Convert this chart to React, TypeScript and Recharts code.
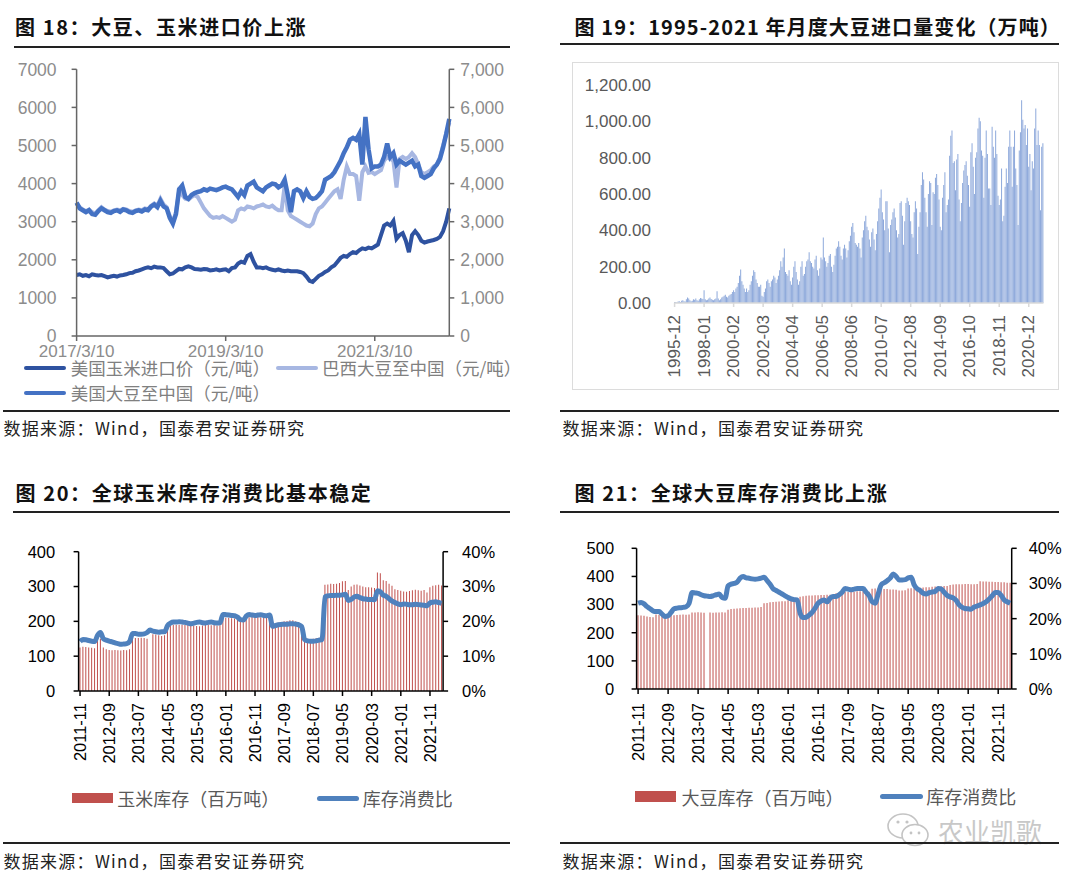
import React from "react";
import { LineChart, Line, BarChart, Bar, ComposedChart, XAxis, YAxis } from "recharts";

const CJK = '"Noto Sans CJK SC", sans-serif';
const NUM = '"Liberation Sans", Arial, sans-serif';

// ---- 图18 大豆、玉米进口价（半月一个点，2017/3/10 起）----
const priceTickLabels = ["2017/3/10", "2019/3/10", "2021/3/10"];
const priceTickAt = [0, 48, 96];
const cornImport = [
  1600, 1620, 1580, 1600, 1570, 1620, 1600, 1590, 1600, 1570,
  1540, 1560, 1580, 1560, 1590, 1600, 1620, 1650, 1660, 1700,
  1720, 1750, 1780, 1800, 1780, 1820, 1800, 1800, 1780, 1700,
  1620, 1640, 1700, 1760, 1750, 1800, 1830, 1800, 1760, 1750,
  1740, 1760, 1750, 1720, 1730, 1750, 1720, 1740, 1750, 1700,
  1780, 1800, 1900, 1950, 1920, 2100, 2150, 1950, 1800, 1800,
  1780, 1800, 1760, 1740, 1720, 1750, 1720, 1700, 1720, 1700,
  1700, 1700, 1680, 1650, 1560, 1450, 1420, 1500, 1580, 1620,
  1680, 1720, 1800, 1850, 1950, 2050, 2100, 2080, 2150, 2200,
  2180, 2250, 2300, 2280, 2320, 2300, 2350, 2400, 2650, 2900,
  2950, 2900, 3020, 2550, 2650, 2700, 2500, 2200, 2650, 2750,
  2650, 2500, 2450, 2480, 2500, 2520, 2550, 2600, 2750, 3000,
  3350,
];
const brazilSoy = [
  3480, 3380, 3320, 3280, 3320, 3250, 3220, 3300, 3380, 3320,
  3280, 3260, 3300, 3320, 3300, 3340, 3320, 3280, 3260, 3300,
  3320, 3300, 3350, 3330, 3420, 3480, 3420, 3600, 3450, 3380,
  3150, 3000, 3250, 3800, 3700, 3600, 3580, 3650, 3700, 3650,
  3500, 3350, 3250, 3150, 3100, 3120, 3100, 3150, 3100, 3050,
  3000, 3050, 3300, 3350, 3320, 3400, 3380, 3350, 3400, 3420,
  3450, 3400, 3380, 3420, 3350, 3300, 3300, 3950, 3300, 3150,
  3100, 3050, 3000, 2950, 2900, 2880, 2950, 3200, 3350, 3400,
  3500, 3600, 3700, 3800, 3850, 3600, 4100, 4450, 4250, 4250,
  4200, 3550, 4300, 4450, 4280, 4300, 4250, 4300, 4350, 4600,
  4700, 4650, 4600, 3900, 4650, 4700, 4650, 4700, 4800, 4700,
  4500, 4300, 4250, 4300, 4350, 4450, 4500, 4700, 5000, 5300,
  5600,
];
const usSoy = [
  3500, 3350, 3300, 3250, 3300, 3200, 3180, 3280, 3350, 3300,
  3250, 3230, 3280, 3300, 3260, 3320, 3300, 3250, 3230, 3280,
  3300, 3270, 3320, 3300, 3400, 3450, 3380, 3550, 3400, 3350,
  3100, 2950, 3200, 3850, 3950, 3650, 3600, 3700, 3750, 3780,
  3800, 3850, 3820, 3870, 3850, 3830, 3860, 3900, 3920, 3880,
  3850, 3750, 3650, 3800, 3700, 3950, 4000, 4050, 3900, 3850,
  3800, 3900, 3950, 4000, 3980, 3900, 3950, 4100, 3700, 3250,
  3800, 3850, 3800, 3620, 3800, 3650, 3600, 3620, 3700, 3800,
  4100, 4150, 4200, 4300, 4450, 4600, 4800, 4950, 5150, 5200,
  5150, 5300, 4500, 5750, 4900, 4400, 4450, 4450, 4500, 4700,
  5050, 4700, 4800, 4500, 4600, 4550, 4500, 4550, 4600, 4450,
  4500, 4200, 4150, 4200, 4250, 4400, 4500, 4650, 4950, 5300,
  5700,
];
const priceTicks = [0, 1000, 2000, 3000, 4000, 5000, 6000, 7000];

// ---- 图19 月度大豆进口量（万吨），1995-12 起 ----
const soyImports = [
  5,
  5, 3, 8, 10, 6, 12, 15, 10, 8, 20, 30, 25, // 1996
  15, 10, 12, 20, 18, 25, 15, 12, 20, 28, 25, 22, // 1997
  70, 20, 15, 18, 25, 30, 22, 18, 15, 20, 25, 65, // 1998
  25, 15, 20, 30, 35, 40, 45, 35, 30, 40, 45, 50, // 1999
  60, 70, 60, 80, 90, 110, 150, 185, 120, 100, 80, 60, // 2000
  80, 60, 70, 100, 120, 150, 180, 170, 130, 110, 90, 90, // 2001
  100, 40, 35, 60, 80, 120, 130, 110, 90, 120, 130, 150, // 2002
  140, 110, 130, 150, 180, 230, 200, 250, 300, 170, 160, 150, // 2003
  180, 120, 100, 140, 200, 230, 170, 130, 100, 120, 200, 230, // 2004
  150, 160, 200, 230, 240, 280, 230, 220, 200, 190, 240, 260, // 2005
  180, 150, 190, 250, 240, 360, 250, 230, 200, 220, 260, 270, // 2006
  200, 170, 210, 260, 300, 310, 340, 310, 260, 240, 300, 320, // 2007
  300, 250, 290, 340, 370, 420, 440, 390, 330, 320, 310, 330, // 2008
  300, 250, 360, 400, 450, 480, 420, 400, 350, 310, 390, 410, // 2009
  350, 290, 380, 450, 520, 580, 625, 500, 460, 400, 560, 560, // 2010
  410, 280, 430, 460, 500, 520, 470, 400, 360, 380, 550, 560, // 2011
  480, 320, 450, 550, 580, 560, 540, 450, 380, 360, 500, 560, // 2012
  520, 270, 420, 500, 650, 720, 680, 580, 500, 420, 600, 670, // 2013
  660, 430, 610, 600, 690, 710, 650, 570, 420, 400, 580, 650, // 2014
  720, 500, 540, 570, 810, 920, 950, 770, 780, 620, 790, 820, // 2015
  570, 450, 550, 660, 730, 760, 780, 700, 650, 530, 830, 880, // 2016
  750, 600, 800, 830, 960, 1020, 1000, 840, 810, 580, 800, 950, // 2017
  820, 630, 630, 540, 970, 860, 800, 950, 820, 590, 540, 570, // 2018
  740, 450, 480, 640, 740, 660, 860, 950, 860, 640, 860, 950, // 2019
  740, 650, 430, 840, 940, 1116, 1009, 960, 980, 870, 960, 750, // 2020
  820, 620, 780, 740, 960, 1070, 870, 950, 870, 510, 860, 880, // 2021
];
const importTicks = [0, 200, 400, 600, 800, 1000, 1200];

// ---- 图20 全球玉米库存 / 库存消费比，2011-11 起 ----
const cornStock = [
  125, 127, 126, 125, 124, 123, 160, 150,
  125, 120, 118, 117, 118, 117, 116, 118, 117, 120,
  150, 152, 152, 153, 152, 150, null,
  163, 162, 160, 158, 160,
  185, 188, 190, 190, 190, 190, 190, 190, 189, 188, 187, 186, 188, 190, 190, 189, 190, 188, 189,
  212, 210, 210, 209, 208, 205, 200, 198,
  210, 212, 213, 214, 213, 212, 212, 210, 211,
  183, 185, 197, 198, 200, 201, 203, 203, 200, 198, 190,
  152, 150, 148, 150, 152, 153, 155,
  305, 306, 308, 307, 308, 310, 315, 316, 290, 300,
  305, 306, 303, 300, 298, 298, 297, 296, 340, 338,
  318, 316, 308, 302, 292, 290, 288, 286, 285, 287, 289,
  291, 289, 288, 290, 283, 298, 302, 304, 305, 303,
];
const cornRatio = [
  14.2, 14.8, 14.7, 14.5, 14.3, 14.2, 16.0, 16.8,
  15.0, 14.6, 14.3, 14.1, 13.8, 13.6, 13.4, 13.5, 13.6, 14.2,
  16.5, 16.5, 16.3, 16.3, 16.4, 16.8, 17.5,
  17.2, 17.0, 16.9, 17.0, 17.0,
  18.8, 19.5, 19.8, 19.8, 19.9, 19.8, 19.7, 19.5, 19.3, 19.5, 19.7, 19.8, 19.6, 19.5, 19.7, 19.8, 19.6, 19.5, 19.6,
  22.0, 21.9, 21.8, 21.7, 21.6, 21.2, 20.5, 20.4,
  21.5, 22.0, 21.8, 21.7, 21.8, 21.9, 21.7, 21.6, 21.8,
  18.6, 18.8, 19.0, 19.1, 19.2, 19.2, 19.3, 19.3, 19.2, 19.0, 18.5,
  14.8, 14.4, 14.3, 14.3, 14.4, 14.6, 14.8,
  27.0, 27.3, 27.4, 27.4, 27.5, 27.5, 27.6, 27.8, 26.0, 26.3,
  27.0, 27.2, 26.8, 26.5, 26.4, 26.3, 26.3, 26.2, 28.8, 28.5,
  27.5, 27.2, 26.5, 25.8, 25.4, 25.0, 24.8, 25.0, 24.9, 24.8, 24.8,
  24.9, 24.8, 24.7, 24.6, 24.5, 25.3, 25.5, 25.6, 25.4, 25.2,
];

// ---- 图21 全球大豆库存 / 库存消费比，2011-11 起 ----
const soyStock = [
  262, 261, 260, 258, 256, 255,
  265, 264, 263, 264, 265, 263, 262, 263, 264, 265, 264, 265,
  272, 272, 273, 272, 271, null,
  272, 271, 272, 272, 273, 272,
  282, 284, 285, 286, 287, 288, 288, 289, 289, 290, 290, 291,
  305, 306, 308, 309, 310, 311, 312, 312,
  315, 316, 316, 318,
  328, 330, 331, 332, 332, 333, 333, 334, 334, 335, 335, 336,
  340, 342, 344, 345, 345, 346, 346, 347, 347, 347, 346, 346,
  356, 357, 357, 356, 355, 355, 354, 354, 353,
  350, 350, 351, 357, 358, 358, 359,
  360, 361, 362, 362, 363, 364, 365, 365, 366, 366,
  370, 371, 372, 372, 372, 373, 373, 372, 372, 373,
  383, 382, 382, 381, 381, 380, 380, 379, 379, 378, 378,
];
const soyRatio = [
  24.4, 24.6, 24.2, 23.4, 22.8, 22.2, 22.0, 22.0, 21.3, 20.6,
  20.8, 21.8, 22.8, 23.0, 23.1, 23.2, 23.4, 24.4, 27.4, 27.3,
  27.2, 26.8, 26.5, 26.4, 26.3, 26.5, 26.8, 27.0, 26.0, 25.8,
  29.3, 29.8, 30.0, 30.4, 31.5, 32.0, 31.6, 31.5, 31.3, 31.2,
  31.3, 31.5, 31.8, 30.8, 29.8, 28.5, 28.0, 27.5, 27.0, 26.5,
  26.0, 25.6, 25.4, 25.3, 21.5, 20.3, 20.4, 21.0, 21.8, 23.0,
  24.4, 25.0, 25.3, 24.8, 25.8, 26.3, 26.3, 26.8, 27.5, 28.6,
  28.4, 28.2, 28.4, 28.6, 28.6, 28.6, 27.5, 26.5, 24.8, 24.4,
  27.0, 29.6, 30.2, 30.8, 31.5, 32.7, 32.0, 31.0, 31.0, 31.1,
  31.6, 31.8, 29.6, 28.5, 28.0, 27.2, 27.0, 27.4, 27.6, 27.7,
  28.6, 28.4, 27.5, 26.6, 26.2, 25.9, 25.2, 23.9, 23.2, 22.9,
  22.8, 22.7, 23.3, 23.6, 23.9, 24.3, 24.8, 25.6, 26.5, 27.4,
  27.4, 26.6, 25.3, 24.8, 24.4,
];
const ratioTicks = [0, 10, 20, 30, 40];

function monthLabels(year: number, month: number, n: number) {
  const out: string[] = [];
  for (let i = 0; i < n; i++) {
    const mm = month - 1 + i;
    out.push(`${year + Math.floor(mm / 12)}-${String((mm % 12) + 1).padStart(2, "0")}`);
  }
  return out;
}

const priceData = cornImport.map((v, i) => ({ k: i, corn: v, brazil: brazilSoy[i], us: usSoy[i] }));
const importLabels = monthLabels(1995, 12, soyImports.length);
const importData = soyImports.map((v, i) => ({ m: importLabels[i], v }));
const stockLabels = monthLabels(2011, 11, cornStock.length);
const cornData = cornStock.map((v, i) => ({ m: stockLabels[i], stock: v, ratio: cornRatio[i] }));
const soyData = soyStock.map((v, i) => ({ m: stockLabels[i], stock: v, ratio: soyRatio[i] }));

function rotTick(color: string, size: number) {
  return (p: any) => (
    <text
      x={p.x}
      y={p.y}
      transform={`rotate(-90, ${p.x}, ${p.y})`}
      textAnchor="end"
      dominantBaseline="central"
      fill={color}
      fontSize={size}
      fontFamily={NUM}
    >
      {p.payload.value}
    </text>
  );
}

const box = (left: number, top: number): React.CSSProperties => ({ position: "absolute", left, top });

function Title({ left, top, text, spacing = 1.6 }: { left: number; top: number; text: string; spacing?: number }) {
  return (
    <div style={{ ...box(left, top - 15), height: 30, lineHeight: "30px", fontFamily: CJK, fontWeight: 700, fontSize: 20, letterSpacing: spacing, color: "#111", whiteSpace: "nowrap" }}>
      {text}
    </div>
  );
}

function Rule({ left, top, width }: { left: number; top: number; width: number }) {
  return <div style={{ ...box(left, top - 1), width, height: 2, background: "#222" }} />;
}

function Source({ left, top }: { left: number; top: number }) {
  return (
    <div style={{ ...box(left, top - 12), height: 24, lineHeight: "24px", fontFamily: CJK, fontSize: 17, letterSpacing: 1.3, color: "#222", whiteSpace: "nowrap" }}>
      数据来源：Wind，国泰君安证券研究
    </div>
  );
}

function LegendLine({ left, top, width, color, thick, textLeft, text, textColor, size }: any) {
  return (
    <>
      <div style={{ ...box(left, top - thick / 2), width, height: thick, background: color, borderRadius: thick / 2 }} />
      <div style={{ ...box(textLeft, top - 13), height: 26, lineHeight: "26px", fontFamily: CJK, fontSize: size, color: textColor, whiteSpace: "nowrap" }}>{text}</div>
    </>
  );
}

function PriceChart() {
  const axis = "#666666";
  const tick = { fill: "#8c8c8c", fontSize: 17.5, fontFamily: NUM };
  return (
    <div style={box(0, 50)}>
      <LineChart width={540} height={350} data={priceData} margin={{ top: 19.3, right: 0, bottom: 34, left: 0 }}>
        <XAxis
          dataKey="k"
          type="number"
          domain={[0, 120]}
          ticks={priceTickAt}
          interval={0}
          tickFormatter={(v: number) => priceTickLabels[priceTickAt.indexOf(v)]}
          stroke={axis}
          strokeWidth={1.5}
          tickSize={5}
          tickMargin={4}
          height={30}
          tick={{ fill: "#8c8c8c", fontSize: 17, fontFamily: NUM }}
        />
        <YAxis yAxisId="l" width={76.6} domain={[0, 7000]} ticks={priceTicks} interval={0} stroke={axis} strokeWidth={1.5} tickSize={5} tickMargin={15} tick={tick} />
        <YAxis
          yAxisId="r"
          orientation="right"
          width={90.7}
          domain={[0, 7000]}
          ticks={priceTicks}
          interval={0}
          stroke={axis}
          strokeWidth={1.5}
          tickSize={5}
          tickMargin={6}
          tick={{ ...tick, textAnchor: "start" }}
          tickFormatter={(v: number) => v.toLocaleString("en-US")}
        />
        <Line yAxisId="l" dataKey="corn" stroke="#2E52A0" strokeWidth={4} dot={false} isAnimationActive={false} />
        <Line yAxisId="l" dataKey="brazil" stroke="#A7B7E2" strokeWidth={4} dot={false} isAnimationActive={false} />
        <Line yAxisId="r" dataKey="us" stroke="#4472C4" strokeWidth={4.5} dot={false} isAnimationActive={false} />
      </LineChart>
    </div>
  );
}

function ImportChart() {
  return (
    <div style={{ ...box(571.5, 62), width: 487.5, height: 328 }}>
      <div style={{ position: "absolute", inset: 0, border: "1.5px solid #dcdcdc", boxSizing: "border-box" }} />
      <BarChart width={487.5} height={328} data={importData} margin={{ top: 23, right: 16, bottom: 7, left: 0 }} barCategoryGap="5%">
        <XAxis
          dataKey="m"
          interval={24}
          stroke="#d9d9d9"
          strokeWidth={1.5}
          tickSize={4}
          tickMargin={8}
          height={80}
          tick={rotTick("#595959", 17)}
        />
        <YAxis
          width={102}
          domain={[0, 1200]}
          ticks={importTicks}
          interval={0}
          axisLine={false}
          tickLine={false}
          tickSize={0}
          tickMargin={23}
          tick={{ fill: "#595959", fontSize: 17, fontFamily: NUM }}
          tickFormatter={(v: number) => v.toLocaleString("en-US", { minimumFractionDigits: 2, maximumFractionDigits: 2 })}
        />
        <Bar dataKey="v" fill="#8EA9DB" isAnimationActive={false} />
      </BarChart>
    </div>
  );
}

function StockChart({ left, width, data, leftW, rightW, top, bottom, max, ticks, lTick, rTick, xMargin }: any) {
  const t = { fill: "#000", fontSize: 16.5, fontFamily: NUM };
  return (
    <div style={box(left, 530)}>
      <ComposedChart width={width} height={250} data={data} margin={{ top, right: 0, bottom, left: 0 }} barCategoryGap="30%">
        <XAxis dataKey="m" interval={9} stroke="#000" strokeWidth={1.5} tickSize={5} tickMargin={xMargin} height={80} tick={rotTick("#000", 16.5)} />
        <YAxis yAxisId="l" width={leftW} domain={[0, max]} ticks={ticks} interval={0} stroke="#000" strokeWidth={1.5} tickSize={5} tickMargin={lTick} tick={t} />
        <YAxis
          yAxisId="r"
          orientation="right"
          width={rightW}
          domain={[0, 40]}
          ticks={ratioTicks}
          interval={0}
          stroke="#000"
          strokeWidth={1.5}
          tickSize={5}
          tickMargin={rTick}
          tick={{ ...t, textAnchor: "start" }}
          tickFormatter={(v: number) => `${v}%`}
        />
        <Bar yAxisId="l" dataKey="stock" fill="#C0504D" isAnimationActive={false} />
        <Line yAxisId="r" dataKey="ratio" type="monotone" stroke="#4F81BD" strokeWidth={5} dot={false} isAnimationActive={false} />
      </ComposedChart>
    </div>
  );
}

function Watermark() {
  return (
    <>
      <svg style={box(886, 811)} width={46} height={38} viewBox="0 0 46 38">
        <ellipse cx={17} cy={15} rx={15} ry={12} fill="#fff" stroke="#c4c4c4" strokeWidth={1.6} />
        <ellipse cx={29} cy={24} rx={13} ry={10.5} fill="#fff" stroke="#c4c4c4" strokeWidth={1.6} />
        <circle cx={12} cy={11} r={1.6} fill="#c4c4c4" />
        <circle cx={21} cy={11} r={1.6} fill="#c4c4c4" />
        <circle cx={25} cy={22} r={1.4} fill="#c4c4c4" />
        <circle cx={33} cy={22} r={1.4} fill="#c4c4c4" />
      </svg>
      <div style={{ ...box(938, 815), height: 32, lineHeight: "32px", fontFamily: CJK, fontSize: 26, color: "#c8c8c8", whiteSpace: "nowrap" }}>农业凯歌</div>
    </>
  );
}

export default function App() {
  return (
    <div style={{ position: "absolute", left: 0, top: 0, width: 1080, height: 879, background: "#fff", overflow: "hidden" }}>
      {/* 图18 */}
      <Title left={15} top={27} text="图 18：大豆、玉米进口价上涨" />
      <Rule left={13.8} top={46.7} width={496} />
      <PriceChart />
      <LegendLine left={24} top={368.3} width={41.5} color="#2E52A0" thick={4} textLeft={70.7} text="美国玉米进口价（元/吨）" textColor="#808080" size={17.5} />
      <LegendLine left={276} top={368.3} width={41.5} color="#A7B7E2" thick={4} textLeft={322} text="巴西大豆至中国（元/吨）" textColor="#808080" size={17.5} />
      <LegendLine left={24} top={393.3} width={41.5} color="#4472C4" thick={4} textLeft={70.7} text="美国大豆至中国（元/吨）" textColor="#808080" size={17.5} />
      <Rule left={2.8} top={410.7} width={507} />
      <Source left={3.4} top={428} />

      {/* 图19 */}
      <Title left={574.5} top={26.7} text="图 19：1995-2021 年月度大豆进口量变化（万吨）" spacing={1.1} />
      <Rule left={560} top={44.3} width={499} />
      <ImportChart />
      <Rule left={560} top={410.7} width={499} />
      <Source left={562.4} top={428} />

      {/* 图20 */}
      <Title left={15.5} top={493.3} text="图 20：全球玉米库存消费比基本稳定" />
      <Rule left={13} top={512.3} width={497} />
      <StockChart left={0} width={540} data={cornData} leftW={78.6} rightW={96.9} top={21.7} bottom={9} max={400} ticks={[0, 100, 200, 300, 400]} lTick={18.4} rTick={14} xMargin={7} />
      <div style={{ ...box(71.7, 792.7), width: 41.4, height: 10.6, background: "#C0504D" }} />
      <div style={{ ...box(117.2, 785), height: 26, lineHeight: "26px", fontFamily: CJK, fontSize: 18, color: "#595959", whiteSpace: "nowrap" }}>玉米库存（百万吨）</div>
      <LegendLine left={316.6} top={798.3} width={42} color="#4F81BD" thick={5} textLeft={362.8} text="库存消费比" textColor="#595959" size={18} />
      <Rule left={2.8} top={843.3} width={507} />
      <Source left={3.4} top={860.7} />

      {/* 图21 */}
      <Title left={574.5} top={493.3} text="图 21：全球大豆库存消费比上涨" />
      <Rule left={560} top={511.7} width={499} />
      <StockChart left={540} width={526} data={soyData} leftW={96.6} rightW={54.3} top={18.3} bottom={11} max={500} ticks={[0, 100, 200, 300, 400, 500]} lTick={17.5} rTick={12} xMargin={9} />
      <div style={{ ...box(635.2, 791), width: 41, height: 10.7, background: "#C0504D" }} />
      <div style={{ ...box(681.4, 783.5), height: 26, lineHeight: "26px", fontFamily: CJK, fontSize: 18, color: "#595959", whiteSpace: "nowrap" }}>大豆库存（百万吨）</div>
      <LegendLine left={879.7} top={796} width={43} color="#4F81BD" thick={5} textLeft={926.2} text="库存消费比" textColor="#595959" size={18} />
      <Watermark />
      <Rule left={560} top={843.3} width={499} />
      <Source left={562.4} top={860.7} />
    </div>
  );
}
